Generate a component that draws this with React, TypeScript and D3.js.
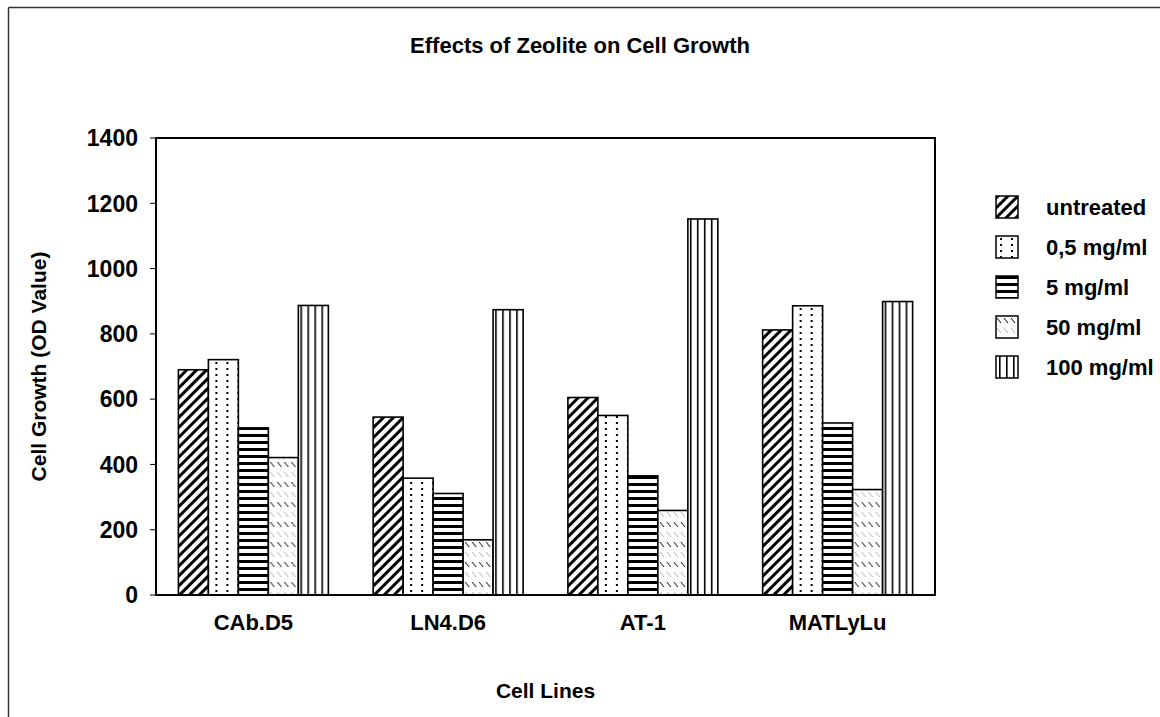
import React from "react";
import * as d3 from "d3";

const categories = ["CAb.D5", "LN4.D6", "AT-1", "MATLyLu"];
const seriesNames = ["untreated", "0,5 mg/ml", "5 mg/ml", "50 mg/ml", "100 mg/ml"];
const untreated = [690, 545, 605, 812];
const mg05 = [721, 358, 550, 886];
const mg5 = [512, 311, 365, 527];
const mg50 = [421, 169, 259, 323];
const mg100 = [887, 874, 1152, 899];
const yTicks = [0, 200, 400, 600, 800, 1000, 1200, 1400];
const patternIds = ["pDiag", "pDots", "pHoriz", "pLight", "pVert"];

const seriesValues = [untreated, mg05, mg5, mg50, mg100];

const W = 1160;
const H = 717;
const plot = { left: 156, right: 935, top: 138, bottom: 595 };
const FONT = "'Liberation Sans', Arial, sans-serif";

export default function App() {
  const x0 = d3
    .scaleBand<string>()
    .domain(categories)
    .range([plot.left, plot.right])
    .paddingInner(0.23)
    .paddingOuter(0.115);
  const x1 = d3
    .scaleBand<string>()
    .domain(seriesNames)
    .range([0, x0.bandwidth()])
    .padding(0);
  const y = d3.scaleLinear().domain([0, 1400]).range([plot.bottom, plot.top]);

  const legendX = 996;
  const legendY0 = 196;
  const legendStep = 40;

  return (
    <svg
      width={W}
      height={H}
      style={{ position: "absolute", left: 0, top: 0, background: "#fff" }}
      fontFamily={FONT}
    >
      <defs>
        <pattern id="pDiag" patternUnits="userSpaceOnUse" width={7} height={7} patternTransform="rotate(45)">
          <rect width={7} height={7} fill="#fff" />
          <rect x={0} y={0} width={3} height={7} fill="#000" />
        </pattern>
        <pattern id="pDots" patternUnits="userSpaceOnUse" width={11} height={12}>
          <rect width={11} height={12} fill="#fff" />
          <rect x={4} y={2} width={2} height={2} fill="#000" />
          <rect x={4} y={8} width={2} height={2} fill="#000" />
        </pattern>
        <pattern id="pHoriz" patternUnits="userSpaceOnUse" width={8} height={7}>
          <rect width={8} height={7} fill="#fff" />
          <rect x={0} y={0} width={8} height={3} fill="#000" />
        </pattern>
        <pattern id="pLight" patternUnits="userSpaceOnUse" width={7} height={20}>
          <rect width={7} height={20} fill="#fff" />
          <line x1={1} y1={2} x2={5} y2={7} stroke="#000" strokeWidth={1} />
          <line x1={1} y1={12} x2={5} y2={17} stroke="#999" strokeWidth={0.8} />
        </pattern>
        <pattern id="pVert" patternUnits="userSpaceOnUse" width={7} height={8}>
          <rect width={7} height={8} fill="#fff" />
          <rect x={3} y={0} width={1.6} height={8} fill="#000" />
        </pattern>
      </defs>

      {/* outer frame */}
      <line x1={8.5} y1={7.5} x2={W} y2={7.5} stroke="#333" strokeWidth={1.5} />
      <line x1={8.5} y1={7.5} x2={8.5} y2={H} stroke="#333" strokeWidth={1.5} />

      {/* title */}
      <text x={580} y={45} dy="0.36em" textAnchor="middle" fontSize={22} fontWeight="bold">
        Effects of Zeolite on Cell Growth
      </text>

      {/* bars */}
      {categories.map((c, ci) => (
        <g key={c} transform={`translate(${x0(c)},0)`}>
          {seriesNames.map((s, si) => {
            const v = seriesValues[si][ci];
            return (
              <rect
                key={s}
                x={x1(s)}
                y={y(v)}
                width={x1.bandwidth()}
                height={y(0) - y(v)}
                fill={`url(#${patternIds[si]})`}
                stroke="#000"
                strokeWidth={1.6}
              />
            );
          })}
        </g>
      ))}

      {/* plot area border */}
      <rect
        x={plot.left}
        y={plot.top}
        width={plot.right - plot.left}
        height={plot.bottom - plot.top}
        fill="none"
        stroke="#000"
        strokeWidth={2}
      />

      {/* y ticks */}
      {yTicks.map((t) => (
        <g key={t}>
          <line x1={plot.left - 6} x2={plot.left} y1={y(t)} y2={y(t)} stroke="#000" strokeWidth={1} />
          <text x={plot.left - 18} y={y(t)} dy="0.36em" textAnchor="end" fontSize={23} fontWeight="bold">
            {t}
          </text>
        </g>
      ))}

      {/* category labels */}
      {categories.map((c) => (
        <text
          key={c}
          x={(x0(c) as number) + x0.bandwidth() / 2}
          y={622}
          dy="0.36em"
          textAnchor="middle"
          fontSize={22}
          fontWeight="bold"
        >
          {c}
        </text>
      ))}

      {/* axis titles */}
      <text x={(plot.left + plot.right) / 2} y={690} dy="0.36em" textAnchor="middle" fontSize={21} fontWeight="bold">
        Cell Lines
      </text>
      <text
        transform={`translate(38,${(plot.top + plot.bottom) / 2}) rotate(-90)`}
        dy="0.36em"
        textAnchor="middle"
        fontSize={21}
        fontWeight="bold"
      >
        Cell Growth (OD Value)
      </text>

      {/* legend */}
      {seriesNames.map((s, i) => (
        <g key={s} transform={`translate(${legendX},${legendY0 + i * legendStep})`}>
          <rect x={0} y={0} width={22} height={22} fill={`url(#${patternIds[i]})`} stroke="#000" strokeWidth={1.5} />
          <text x={50} y={11} dy="0.36em" fontSize={22} fontWeight="bold">
            {s}
          </text>
        </g>
      ))}
    </svg>
  );
}
